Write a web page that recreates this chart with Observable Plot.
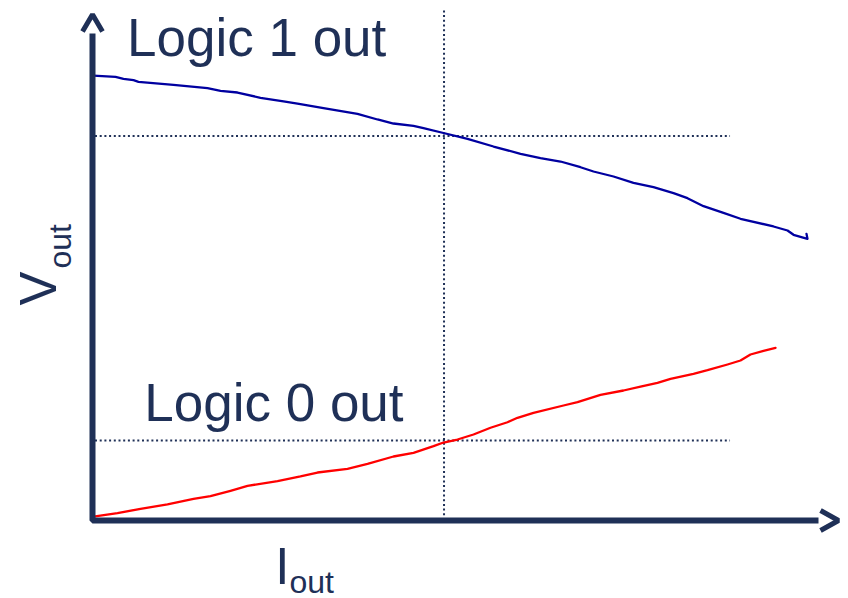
<!DOCTYPE html>
<html>
<head>
<meta charset="utf-8">
<script src="https://cdn.jsdelivr.net/npm/d3@7"></script>
<script src="https://cdn.jsdelivr.net/npm/@observablehq/plot@0.6"></script>
<style>
  html, body { margin: 0; padding: 0; background: #fff; }
  #chart svg { display: block; }
</style>
</head>
<body>
<div id="chart"></div>
<script>
// Output current (arbitrary units) and output voltage (arbitrary units)
const logic1I = [0.01,0.307,0.413,0.547,0.613,1.08,1.533,1.707,1.933,2.24,2.547,2.733,3.08,3.533,3.8,4.013,4.28,4.413,4.68,5.0,5.347,5.707,5.973,6.24,6.507,6.68,6.947,7.213,7.48,7.747,7.933,8.147,8.413,8.64,9.08,9.267,9.347,9.533,9.52];
const logic1V = [8.725,8.70,8.661,8.633,8.602,8.543,8.476,8.425,8.392,8.288,8.216,8.176,8.084,7.974,7.863,7.784,7.739,7.692,7.598,7.484,7.333,7.19,7.104,7.039,6.927,6.843,6.745,6.622,6.535,6.418,6.32,6.163,6.033,5.916,5.765,5.686,5.602,5.524,5.62];

const logic0I = [0.013,0.333,0.64,1.0,1.347,1.573,1.84,2.067,2.467,2.773,3.0,3.4,3.667,4.013,4.28,4.547,4.68,4.867,5.08,5.307,5.533,5.667,5.88,6.28,6.467,6.773,7.08,7.307,7.533,7.707,8.013,8.2,8.467,8.64,8.773,8.947,9.107];
const logic0V = [0.078,0.143,0.229,0.314,0.425,0.476,0.582,0.68,0.771,0.863,0.941,1.014,1.112,1.255,1.327,1.457,1.529,1.588,1.686,1.818,1.927,2.014,2.112,2.255,2.32,2.465,2.549,2.627,2.70,2.778,2.876,2.947,3.059,3.137,3.255,3.327,3.386];

// Reference (operating) point
const refI = 4.687;
const refV1 = 7.54;
const refV0 = 1.569;
const refIStart = 0.04, refIEnd = 8.507, refVTop = 10.04;

// Axis extents
const axisTopV = 9.55, axisEndI = 9.68;
const vArrow = [[-0.133, 9.59], [0, 9.92], [0.133, 9.59]];
const hArrow = [[9.707, 0.196], [9.947, 0], [9.707, -0.196]];

const labels = [
  {text: "Logic 1 out", I: 0.46, V: 9.45},
  {text: "Logic 0 out", I: 0.69, V: 2.275}
];

const navy = "#1f3057";
const font = "'Liberation Sans', Arial, sans-serif";

const blue = logic1I.map((I, i) => ({I, V: logic1V[i]}));
const red = logic0I.map((I, i) => ({I, V: logic0V[i]}));
const axisPath = [{I: 0, V: axisTopV}, {I: 0, V: 0}, {I: axisEndI, V: 0}];

const chart = Plot.plot({
  width: 848,
  height: 598,
  marginLeft: 92,
  marginRight: 6,
  marginTop: 10,
  marginBottom: 78,
  x: {domain: [0, 10], axis: null},
  y: {domain: [0, 10], axis: null},
  marks: [
    // dotted guides
    Plot.ruleX([refI], {y1: 0, y2: refVTop, stroke: navy, strokeWidth: 2, strokeDasharray: "2,2.7"}),
    Plot.ruleY([refV1, refV0], {x1: refIStart, x2: refIEnd, stroke: navy, strokeWidth: 2, strokeDasharray: "2,2.7"}),
    // curves
    Plot.line(blue, {x: "I", y: "V", stroke: "#0000a0", strokeWidth: 2.3, curve: "linear"}),
    Plot.line(red, {x: "I", y: "V", stroke: "#ff0000", strokeWidth: 2.3, curve: "linear"}),
    // axes
    Plot.line(axisPath, {x: "I", y: "V", stroke: navy, strokeWidth: 6, strokeLinejoin: "miter", strokeLinecap: "butt"}),
    Plot.line(vArrow, {x: d => d[0], y: d => d[1], stroke: navy, strokeWidth: 5, strokeLinejoin: "miter", strokeLinecap: "butt"}),
    Plot.line(hArrow, {x: d => d[0], y: d => d[1], stroke: navy, strokeWidth: 5, strokeLinejoin: "miter", strokeLinecap: "butt"}),
    // labels
    Plot.text(labels, {x: "I", y: "V", text: "text", textAnchor: "start", lineAnchor: "middle", fontSize: 53, fontFamily: font, fill: navy}),
    // axis titles with subscripts
    Plot.text(["I"], {x: 2.435, y: -0.916, text: d => d, textAnchor: "start", lineAnchor: "middle", fontSize: 51, fontFamily: font, fill: navy}),
    Plot.text(["out"], {x: 2.627, y: -1.212, text: d => d, textAnchor: "start", lineAnchor: "middle", fontSize: 32, fontFamily: font, fill: navy}),
    Plot.text(["V"], {x: -0.711, y: 4.216, text: d => d, rotate: -90, textAnchor: "start", lineAnchor: "middle", fontSize: 51, fontFamily: font, fill: navy}),
    Plot.text(["out"], {x: -0.429, y: 4.94, text: d => d, rotate: -90, textAnchor: "start", lineAnchor: "middle", fontSize: 32, fontFamily: font, fill: navy})
  ]
});
chart.style.overflow = "visible";
document.getElementById("chart").appendChild(chart);
</script>
</body>
</html>
